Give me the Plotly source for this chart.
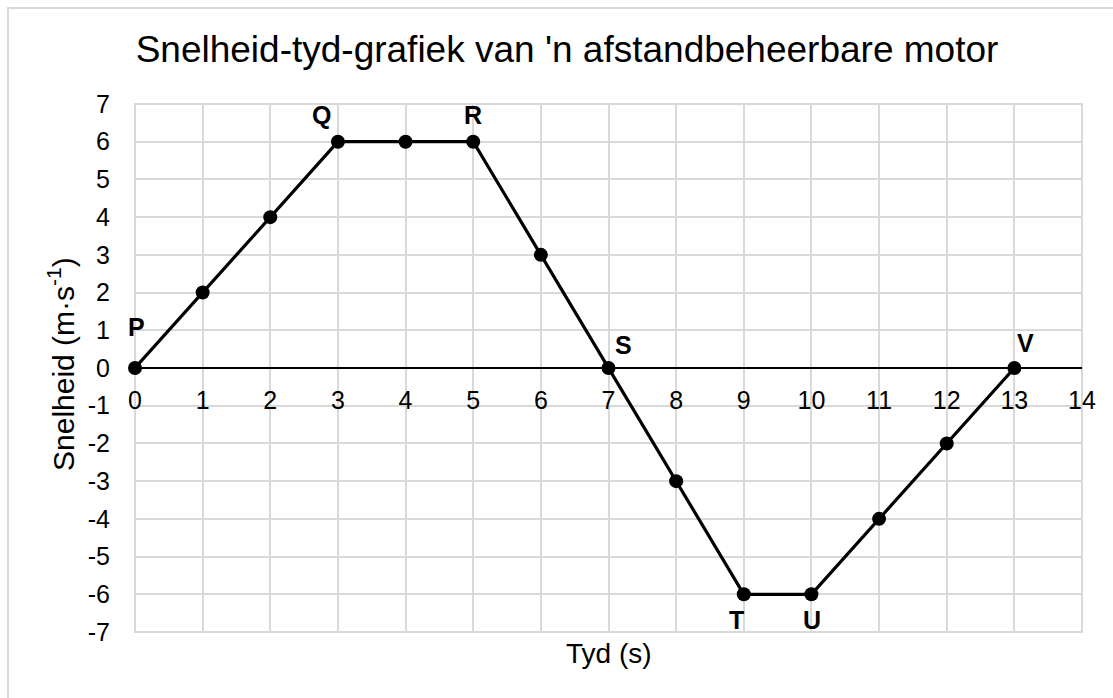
import plotly.graph_objects as go

# ---- data ----
time_s = [0, 1, 2, 3, 4, 5, 6, 7, 8, 9, 10, 11, 12, 13]
speed = [0, 2, 4, 6, 6, 6, 3, 0, -3, -6, -6, -4, -2, 0]
point_names = ["P", "Q", "R", "S", "T", "U", "V"]
point_index = [0, 3, 5, 7, 9, 10, 13]
x_ticks = list(range(0, 15))
y_ticks = list(range(-7, 8))
title_text = "Snelheid-tyd-grafiek van 'n afstandbeheerbare motor"
x_title = "Tyd (s)"
y_title = "Snelheid (m·s<sup>-1</sup>)"

# ---- style ----
FONT = "Liberation Sans, Arial, sans-serif"
GRID = "#d9d9d9"
label_offsets = {"P": (1, 41), "Q": (-16, 27), "R": (0, 27), "S": (15, 23),
                 "T": (-7, -26), "U": (1, -26), "V": (11, 25)}

W, H = 1113, 698
L, R, T, B = 135, 31, 104, 66
pw, ph = W - L - R, H - T - B

fig = go.Figure()
fig.add_trace(go.Scatter(
    x=time_s, y=speed, mode="lines+markers",
    line=dict(color="black", width=3.2),
    marker=dict(color="black", size=14),
    cliponaxis=False,
    showlegend=False, hoverinfo="x+y",
))

for name, idx in zip(point_names, point_index):
    dx, dy = label_offsets[name]
    fig.add_annotation(x=time_s[idx], y=speed[idx], text=f"<b>{name}</b>",
                       showarrow=False, xshift=dx, yshift=dy,
                       xanchor="center", yanchor="middle",
                       font=dict(family=FONT, size=25, color="black"))

# axis titles
fig.add_annotation(x=0.5, y=(H - 653 - B) / ph, xref="paper", yref="paper",
                   text=x_title, showarrow=False, xanchor="center", yanchor="middle",
                   font=dict(family=FONT, size=28, color="black"))
fig.add_annotation(x=(61 - L) / pw, y=(H - 364 - B) / ph, xref="paper", yref="paper",
                   text=y_title, showarrow=False, textangle=-90,
                   xanchor="center", yanchor="middle",
                   font=dict(family=FONT, size=30, color="black"))

# plot-area border and chart border
fig.add_shape(type="rect", xref="paper", yref="paper", x0=0, x1=1, y0=0, y1=1,
              line=dict(color=GRID, width=2), layer="below")
fig.add_shape(type="rect", xref="paper", yref="paper",
              x0=(8 - L) / pw, x1=(1125 - L) / pw,
              y0=(H - 710 - B) / ph, y1=(H - 8 - B) / ph,
              line=dict(color=GRID, width=2), layer="below")

fig.update_layout(
    width=W, height=H,
    margin=dict(l=L, r=R, t=T, b=B),
    paper_bgcolor="white", plot_bgcolor="white",
    font=dict(family=FONT, color="black"),
    title=dict(text=title_text, x=567 / W, xanchor="center",
               y=1 - 49 / H, yanchor="middle", yref="container",
               font=dict(family=FONT, size=37, color="black")),
    xaxis=dict(range=[0, 14], tickmode="array", tickvals=x_ticks,
               ticktext=[str(v) for v in x_ticks],
               anchor="free", position=0.5,
               showline=True, linecolor="black", linewidth=2,
               showgrid=True, gridcolor=GRID, gridwidth=2,
               zeroline=False, ticks="", ticklabelstandoff=10,
               tickfont=dict(family=FONT, size=25, color="black")),
    yaxis=dict(range=[-7, 7], tickmode="array", tickvals=y_ticks,
               ticktext=[str(v) for v in y_ticks],
               showgrid=True, gridcolor=GRID, gridwidth=2,
               zeroline=False, showline=False, ticks="",
               ticklabelstandoff=24,
               tickfont=dict(family=FONT, size=25, color="black")),
)

fig.write_html("out.html", config={"displayModeBar": False},
               post_script="document.body.style.margin='0';document.body.style.overflow='hidden';")
